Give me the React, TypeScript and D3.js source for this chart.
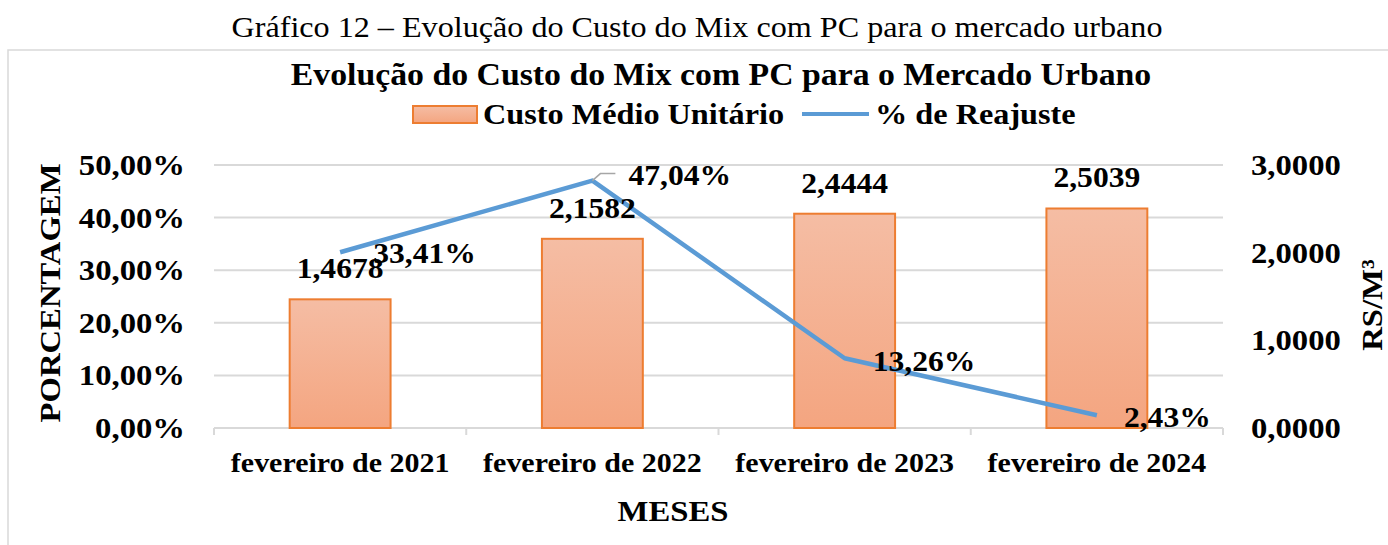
import React from 'react';
import * as d3 from 'd3';

// dados do gráfico
const categories = ['fevereiro de 2021', 'fevereiro de 2022', 'fevereiro de 2023', 'fevereiro de 2024'];
const custoMedio = [1.4678, 2.1582, 2.4444, 2.5039]; // R$/m³ (eixo direito)
const reajuste = [0.3341, 0.4704, 0.1326, 0.0243]; // % de reajuste (eixo esquerdo)
const pctTicks = [0, 0.1, 0.2, 0.3, 0.4, 0.5];
const custoTicks = [0, 1, 2, 3];

const W = 1388;
const H = 545;
const plot = { left: 214, right: 1223, top: 165, bottom: 428 };
const FONT = '"Liberation Serif", "Times New Roman", serif';
const SX = 1.09; // o texto do original é um pouco mais largo

// ajuste manual dos rótulos da linha (como no Excel)
const lineLabelDx = [33, 36, 28, 27];
const lineLabelDy = [11, 4, 13, 12];

const ptBR = d3.formatLocale({ decimal: ',', thousands: '.', grouping: [3], currency: ['R$', ''] });
const fmtPct = ptBR.format('.2%');
const fmtCusto = ptBR.format('.4f');

type TxtProps = {
  x: number;
  y: number;
  size?: number;
  weight?: string;
  anchor?: string;
  rotate?: boolean;
  children: React.ReactNode;
};

const Txt = ({ x, y, size = 28, weight = 'bold', anchor = 'start', rotate = false, children }: TxtProps) => (
  <text
    transform={`translate(${x},${y})${rotate ? ' rotate(-90)' : ''} scale(${SX},1)`}
    fontFamily={FONT}
    fontSize={size}
    fontWeight={weight}
    textAnchor={anchor}
    fill="#000"
  >
    {children}
  </text>
);

const App = () => {
  const x = d3.scaleBand<string>().domain(categories).range([plot.left, plot.right]).padding(0);
  const yPct = d3.scaleLinear().domain([0, 0.5]).range([plot.bottom, plot.top]);
  const yCusto = d3.scaleLinear().domain([0, 3]).range([plot.bottom, plot.top]);

  const bw = x.bandwidth() * 0.4;
  const cx = (c: string) => (x(c) as number) + x.bandwidth() / 2;

  const line = d3
    .line<number>()
    .x((d, i) => cx(categories[i]))
    .y((d) => yPct(d));

  const boundaries = [...categories.map((c) => x(c) as number), plot.right];

  return (
    <svg width={W} height={H} style={{ position: 'absolute', left: 0, top: 0, background: '#fff' }}>
      <defs>
        <linearGradient id="barGrad" x1="0" y1="0" x2="0" y2="1">
          <stop offset="0%" stopColor="#f5bda4" />
          <stop offset="100%" stopColor="#f4a580" />
        </linearGradient>
      </defs>

      {/* título da figura */}
      <Txt x={697} y={37} size={29.5} weight="normal" anchor="middle">
        Gráfico 12 – Evolução do Custo do Mix com PC para o mercado urbano
      </Txt>

      {/* moldura do gráfico */}
      <rect x={8} y={50} width={1500} height={600} fill="none" stroke="#d9d9d9" strokeWidth={1.5} />

      <Txt x={721} y={85} size={31} anchor="middle">
        Evolução do Custo do Mix com PC para o Mercado Urbano
      </Txt>

      {/* legenda */}
      <rect x={413} y={106} width={64} height={17} fill="url(#barGrad)" stroke="#ed7d31" strokeWidth={2} />
      <Txt x={483} y={124} size={29.6}>Custo Médio Unitário</Txt>
      <line x1={802} x2={869} y1={114} y2={114} stroke="#5b9bd5" strokeWidth={4} />
      <Txt x={875} y={124} size={29.6}>% de Reajuste</Txt>

      {/* grade */}
      {pctTicks.map((t) => (
        <line key={t} x1={plot.left} x2={plot.right} y1={yPct(t)} y2={yPct(t)} stroke="#d9d9d9" strokeWidth={2} />
      ))}
      {boundaries.map((b, i) => (
        <line key={i} x1={b} x2={b} y1={plot.bottom} y2={plot.bottom + 7} stroke="#d9d9d9" strokeWidth={2} />
      ))}

      {/* eixo esquerdo */}
      {pctTicks.map((t) => (
        <Txt key={t} x={185} y={yPct(t) + 10} size={30} anchor="end">
          {fmtPct(t)}
        </Txt>
      ))}
      <Txt x={60} y={293} size={30} anchor="middle" rotate>
        PORCENTAGEM
      </Txt>

      {/* eixo direito */}
      {custoTicks.map((t) => (
        <Txt key={t} x={1251} y={yCusto(t) + 10} size={30}>
          {fmtCusto(t)}
        </Txt>
      ))}
      <Txt x={1382} y={305} size={30} anchor="middle" rotate>
        RS/M³
      </Txt>

      {/* barras */}
      {categories.map((c, i) => (
        <rect
          key={c}
          x={cx(c) - bw / 2}
          y={yCusto(custoMedio[i])}
          width={bw}
          height={plot.bottom - yCusto(custoMedio[i])}
          fill="url(#barGrad)"
          stroke="#ed7d31"
          strokeWidth={2}
        />
      ))}

      {/* linha */}
      <path d={line(reajuste) || ''} fill="none" stroke="#5b9bd5" strokeWidth={4.5} strokeLinejoin="round" />

      {/* linha de chamada do rótulo 47,04% */}
      <polyline
        points={`${cx(categories[1])},${yPct(reajuste[1])} ${cx(categories[1]) + 8},${yPct(reajuste[1]) - 7} ${cx(categories[1]) + 23},${yPct(reajuste[1]) - 7}`}
        fill="none"
        stroke="#a6a6a6"
        strokeWidth={1.5}
      />

      {/* rótulos das barras */}
      {categories.map((c, i) => (
        <Txt key={c} x={cx(c)} y={yCusto(custoMedio[i]) - 21} size={29} anchor="middle">
          {fmtCusto(custoMedio[i])}
        </Txt>
      ))}

      {/* rótulos da linha */}
      {categories.map((c, i) => (
        <Txt key={c} x={cx(c) + lineLabelDx[i]} y={yPct(reajuste[i]) + lineLabelDy[i]} size={29}>
          {fmtPct(reajuste[i])}
        </Txt>
      ))}

      {/* eixo x */}
      {categories.map((c) => (
        <Txt key={c} x={cx(c)} y={472} size={27.5} anchor="middle">
          {c}
        </Txt>
      ))}
      <Txt x={673} y={521} size={30} anchor="middle">
        MESES
      </Txt>
    </svg>
  );
};

export default App;
